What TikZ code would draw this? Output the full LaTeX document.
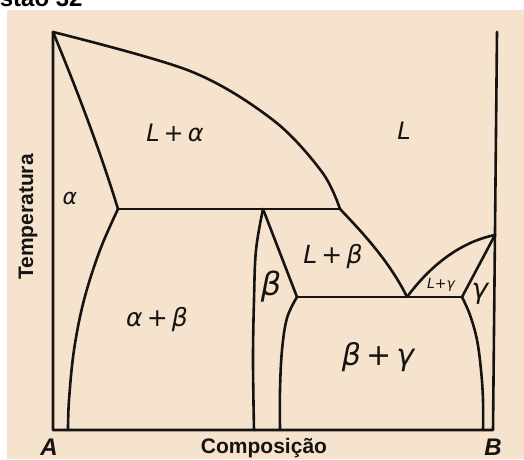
\documentclass[tikz,border=0pt]{standalone}
\usepackage{fontspec}
\newfontfamily\arialf{Liberation Sans}
\newfontfamily\handf{DejaVu Sans}
\definecolor{paper}{RGB}{245,227,206}
\definecolor{ink}{RGB}{22,20,18}
\newcommand{\hsz}[1]{\handf\itshape\fontsize{#1}{#1}\selectfont}
\begin{document}
\begin{tikzpicture}[x=1pt,y=-1pt,
  ln/.style={draw=ink,line width=2.6pt,line cap=round,line join=round},
  phase/.style={inner sep=0pt,text=ink},
  axlab/.style={inner sep=0pt,text=ink,font=\arialf\bfseries\fontsize{21}{24}\selectfont}]
\useasboundingbox (0,0) rectangle (524,459);
\fill[white] (0,0) rectangle (524,459);
\fill[paper] (7,10) rectangle (524,459);
\node[anchor=base west,inner sep=0pt,font=\arialf\bfseries\fontsize{24}{28}\selectfont] (title) at (-47,6) {Questão 32};
% key points
\coordinate (TA) at (53,32);
\coordinate (BA) at (53,430);
\coordinate (TB) at (497,32);
\coordinate (BB) at (493,430);
\coordinate (E1L) at (118,209);
\coordinate (E1R) at (340,209);
\coordinate (P1) at (263,209);
\coordinate (E2L) at (297,297);
\coordinate (E2M) at (407,297);
\coordinate (E2R) at (462,297);
\coordinate (G) at (495,235);
% frame
\draw[ln] (TA) -- (BA) -- (BB) -- (TB);
% liquidus alpha
\draw[ln] plot[smooth,tension=0.55] coordinates {(53,32) (190,71) (273,120) (322,172) (340,209)};
% liquidus beta
\draw[ln] (E1R) .. controls (362,232) and (390,262) .. (E2M);
% alpha solidus
\draw[ln] (TA) .. controls (75,85) and (100,150) .. (E1L);
% alpha solvus
\draw[ln] plot[smooth,tension=0.6] coordinates {(118,209) (100,250) (84,300) (74,350) (69,400) (68,430)};
% eutectic 1
\draw[ln] (E1L) -- (E1R);
% beta left
\draw[ln] plot[smooth,tension=0.6] coordinates {(263,209) (256,250) (254,300) (253,360) (254,430)};
% beta solidus
\draw[ln] (P1) -- (E2L);
% beta solvus right
\draw[ln] plot[smooth,tension=0.6] coordinates {(297,297) (287,318) (282,350) (280,390) (280,430)};
% eutectic 2
\draw[ln] (E2L) -- (E2R);
% gamma liquidus
\draw[ln] (E2M) .. controls (430,266) and (460,242) .. (G);
% gamma solidus
\draw[ln] (G) -- (E2R);
% gamma solvus
\draw[ln] plot[smooth,tension=0.6] coordinates {(462,297) (470,315) (477,340) (481,370) (483,400) (483,430)};
% phase labels
\node[phase,font=\hsz{24}] (La) at (175,133) {L\,+\,α};
\node[phase,font=\hsz{24}] (L) at (404,131) {L};
\node[phase,font=\hsz{22}] (a) at (70,198) {α};
\node[phase,font=\hsz{25}] (ab) at (157,320) {α\,+\,β};
\node[phase,font=\hsz{32}] (b) at (271,287) {β};
\node[phase,font=\hsz{25}] (Lb) at (333,257) {L\,+\,β};
\node[phase,font=\hsz{14}] (Lg) at (441,285) {L+γ};
\node[phase,font=\hsz{28}] (g) at (480,294) {γ};
\node[phase,font=\hsz{30}] (bg) at (378,357) {β\,+\,γ};
% axis labels
\node[inner sep=0pt,text=ink,font=\arialf\bfseries\itshape\fontsize{24}{28}\selectfont] (A) at (49,447) {A};
\node[inner sep=0pt,text=ink,font=\arialf\bfseries\itshape\fontsize{24}{28}\selectfont] (B) at (493,447) {B};
\node[axlab] (comp) at (264,448) {Composição};
\node[axlab,rotate=90] (temp) at (28,217) {Temperatura};
\end{tikzpicture}
\end{document}
